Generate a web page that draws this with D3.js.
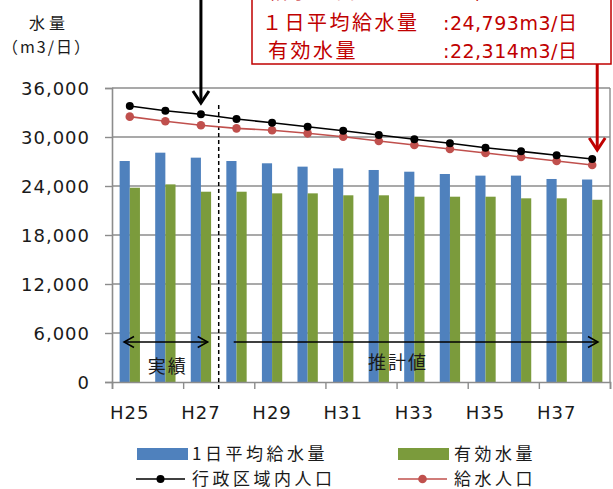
<!DOCTYPE html>
<html>
<head>
<meta charset="utf-8">
<script src="https://cdn.jsdelivr.net/npm/d3@7"></script>
<style>
  html, body { margin: 0; padding: 0; background: #fff; }
  svg { display: block; }
  text { font-family: "DejaVu Sans", "Noto Sans CJK JP", sans-serif; fill: #1a1a1a; }
  .cjk { font-family: "Noto Sans CJK JP", "DejaVu Sans", sans-serif; }
</style>
</head>
<body>
<svg id="chart" width="613" height="489"></svg>
<script>
// Fiscal years (Heisei)
const categories = ["H25","H26","H27","H28","H29","H30","H31","H32","H33","H34","H35","H36","H37","H38"];
// 1日平均給水量 (m3/日)
const dailySupply = [27060, 28080, 27470, 27060, 26780, 26370, 26160, 25960, 25750, 25470, 25270, 25270, 24860, 24793];
// 有効水量 (m3/日)
const effectiveWater = [23790, 24200, 23300, 23300, 23100, 23100, 22860, 22860, 22690, 22690, 22690, 22490, 22490, 22314];
// 行政区域内人口 (人)
const adminPopulation = [33800, 33220, 32780, 32200, 31750, 31260, 30770, 30240, 29720, 29230, 28690, 28240, 27760, 27300];
// 給水人口 (人)
const servedPopulation = [32490, 31920, 31430, 31060, 30820, 30450, 30040, 29510, 29020, 28530, 28040, 27550, 27060, 26572];
const yTicks = [0, 6000, 12000, 18000, 24000, 30000, 36000];
const xLabelYears = ["H25","H27","H29","H31","H33","H35","H37"];
const actualCount = 3; // H25–H27 are actual results, the rest are projections

const svg = d3.select("#chart");
const plotL = 112, plotR = 610, plotT = 88, plotB = 382;
const x = d3.scaleBand().domain(categories).range([plotL, plotR]).paddingInner(0).paddingOuter(0);
const y = d3.scaleLinear().domain([0, 36000]).range([plotB, plotT]);
const xb = d3.scaleLinear().domain([0, categories.length]).range([plotL, plotR]);

const gridColor = "#8c8c8c";
const blue = "#4f81bd", green = "#7b9b3c", red = "#c0504d", dark = "#c00000";

// gridlines + plot border
svg.append("g").selectAll("line").data(yTicks.filter(d => d > 0)).join("line")
  .attr("x1", plotL).attr("x2", plotR)
  .attr("y1", d => y(d)).attr("y2", d => y(d))
  .attr("stroke", gridColor).attr("stroke-width", 1.4);
svg.append("line").attr("x1", plotR).attr("x2", plotR).attr("y1", plotT).attr("y2", plotB)
  .attr("stroke", gridColor).attr("stroke-width", 1.4);

// bars
const bw = x.bandwidth() / 3.5;
const bars = svg.append("g");
bars.selectAll("rect.s").data(categories).join("rect").attr("class", "s")
  .attr("x", (d, i) => x(d) + x.bandwidth() / 2 - bw)
  .attr("y", (d, i) => y(dailySupply[i]))
  .attr("width", bw).attr("height", (d, i) => plotB - y(dailySupply[i]))
  .attr("fill", blue);
bars.selectAll("rect.e").data(categories).join("rect").attr("class", "e")
  .attr("x", (d, i) => x(d) + x.bandwidth() / 2)
  .attr("y", (d, i) => y(effectiveWater[i]))
  .attr("width", bw).attr("height", (d, i) => plotB - y(effectiveWater[i]))
  .attr("fill", green);

// y axis
const yAxis = svg.append("g").attr("transform", `translate(${plotL},0)`)
  .call(d3.axisLeft(y).tickValues(yTicks).tickSize(7).tickPadding(15).tickFormat(d3.format(",")));
yAxis.select(".domain").attr("stroke", gridColor).attr("stroke-width", 1.6);
yAxis.selectAll(".tick line").attr("stroke", gridColor).attr("stroke-width", 1.4);
yAxis.selectAll(".tick text").attr("font-size", 18).attr("fill", "#1a1a1a")
  .style("letter-spacing", "1px").attr("dy", "0.36em");

// x axis: ticks on every second category boundary
const xAxis = svg.append("g").attr("transform", `translate(0,${plotB})`)
  .call(d3.axisBottom(xb).tickValues(d3.range(0, categories.length + 1, 2)).tickSize(7).tickFormat(""));
xAxis.select(".domain").attr("stroke", gridColor).attr("stroke-width", 1.6);
xAxis.selectAll(".tick line").attr("stroke", gridColor).attr("stroke-width", 1.4);
svg.append("g").selectAll("text").data(xLabelYears).join("text")
  .attr("x", d => x(d) + x.bandwidth() / 2).attr("y", 413).attr("dy", "0.36em")
  .attr("text-anchor", "middle").attr("font-size", 18).style("letter-spacing", "1px")
  .text(d => d);

// divider between actual and projected
const divX = xb(actualCount);
svg.append("line").attr("x1", divX).attr("x2", divX).attr("y1", 105).attr("y2", 390)
  .attr("stroke", "#000").attr("stroke-width", 1.5).attr("stroke-dasharray", "4,3");

// population lines
function series(vals, color, r) {
  const g = svg.append("g");
  g.append("path").datum(vals)
    .attr("d", d3.line().x((d, i) => x(categories[i]) + x.bandwidth() / 2).y(d => y(d)))
    .attr("fill", "none").attr("stroke", color).attr("stroke-width", 1.6);
  g.selectAll("circle").data(vals).join("circle")
    .attr("cx", (d, i) => x(categories[i]) + x.bandwidth() / 2).attr("cy", d => y(d))
    .attr("r", r).attr("fill", color);
}
series(servedPopulation, red, 4.3);
series(adminPopulation, "#000", 4);

// arrows
function openHead(g, tx, ty, dir, len, half, color, w) {
  const a1 = dir + Math.PI - Math.atan2(half, len), a2 = dir + Math.PI + Math.atan2(half, len);
  const L = Math.hypot(len, half);
  g.append("path")
    .attr("d", `M${tx + L * Math.cos(a1)},${ty + L * Math.sin(a1)}L${tx},${ty}L${tx + L * Math.cos(a2)},${ty + L * Math.sin(a2)}`)
    .attr("fill", "none").attr("stroke", color).attr("stroke-width", w).attr("stroke-linejoin", "miter");
}
const arrows = svg.append("g");
const arrowY = 342;
const actX0 = x("H25") + 12, actX1 = divX - 11;
arrows.append("line").attr("x1", actX0).attr("x2", actX1).attr("y1", arrowY).attr("y2", arrowY)
  .attr("stroke", "#000").attr("stroke-width", 1.5);
openHead(arrows, actX0, arrowY, Math.PI, 10, 5.5, "#000", 1.5);
openHead(arrows, actX1, arrowY, 0, 10, 5.5, "#000", 1.5);
const estX0 = divX + 15, estX1 = plotR - 12;
arrows.append("line").attr("x1", estX0).attr("x2", estX1).attr("y1", arrowY).attr("y2", arrowY)
  .attr("stroke", "#000").attr("stroke-width", 1.5);
openHead(arrows, estX1, arrowY, 0, 10, 5.5, "#000", 1.5);

svg.append("text").attr("class", "cjk").attr("x", (actX0 + actX1) / 2 + 2).attr("y", 367).attr("dy", "0.35em")
  .attr("text-anchor", "middle").attr("font-size", 18).style("letter-spacing", "2px").text("実績");
svg.append("text").attr("class", "cjk").attr("x", 398).attr("y", 363).attr("dy", "0.35em")
  .attr("text-anchor", "middle").attr("font-size", 18).style("letter-spacing", "2px").text("推計値");

// callout arrow to H27
const h27x = x("H27") + x.bandwidth() / 2;
arrows.append("line").attr("x1", h27x).attr("x2", h27x).attr("y1", 0).attr("y2", 103)
  .attr("stroke", "#000").attr("stroke-width", 3);
openHead(arrows, h27x, 103, Math.PI / 2, 12, 8, "#000", 3);

// annotation box for the final year
const box = svg.append("g");
box.append("rect").attr("x", 252).attr("y", -40).attr("width", 359).attr("height", 104)
  .attr("fill", "#fff").attr("stroke", dark).attr("stroke-width", 1.5);
const boxRows = [
  ["給水人口", ":26,572人", -8, 268],
  ["１日平均給水量", ":24,793m3/日", 23, 262],
  ["有効水量", ":22,314m3/日", 51, 268]
];
boxRows.forEach(([label, val, yy, lx]) => {
  box.append("text").attr("class", "cjk").attr("x", lx).attr("y", yy).attr("dy", "0.36em")
    .attr("font-size", 20).style("letter-spacing", "2.5px").style("fill", dark).text(label);
  box.append("text").attr("x", 443).attr("y", yy).attr("dy", "0.36em")
    .attr("font-size", 19).style("letter-spacing", "0.5px").style("fill", dark).text(val);
});
const lastX = x("H38") + x.bandwidth() / 2 + 5;
arrows.append("line").attr("x1", lastX).attr("x2", lastX).attr("y1", 64).attr("y2", 150)
  .attr("stroke", dark).attr("stroke-width", 3);
openHead(arrows, lastX, 150, Math.PI / 2, 12, 8, dark, 3);

// y axis title
svg.append("text").attr("class", "cjk").attr("x", 49).attr("y", 23).attr("dy", "0.36em")
  .attr("text-anchor", "middle").attr("font-size", 16).style("letter-spacing", "4px").text("水量");
svg.append("text").attr("class", "cjk").attr("x", 47).attr("y", 47).attr("dy", "0.36em")
  .attr("text-anchor", "middle").attr("font-size", 16).style("letter-spacing", "2px").text("（m3/日）");

// legend
const legend = svg.append("g");
const legendItems = [
  { name: "1日平均給水量", type: "bar", color: blue, x: 137, y: 454 },
  { name: "有効水量", type: "bar", color: green, x: 398, y: 454 },
  { name: "行政区域内人口", type: "line", color: "#000", x: 136, y: 479 },
  { name: "給水人口", type: "line", color: red, x: 398, y: 479 }
];
legendItems.forEach(it => {
  if (it.type === "bar") {
    legend.append("rect").attr("x", it.x).attr("y", it.y - 6).attr("width", 51).attr("height", 12).attr("fill", it.color);
  } else {
    legend.append("line").attr("x1", it.x).attr("x2", it.x + 49).attr("y1", it.y).attr("y2", it.y)
      .attr("stroke", it.color).attr("stroke-width", 1.6);
    legend.append("circle").attr("cx", it.x + 24.5).attr("cy", it.y).attr("r", it.color === red ? 4.3 : 4).attr("fill", it.color);
  }
  legend.append("text").attr("class", "cjk").attr("x", 192 + (it.x > 300 ? 262 : 0)).attr("y", it.y).attr("dy", "0.36em")
    .attr("font-size", 17).style("letter-spacing", "3.5px").text(it.name);
});
</script>
</body>
</html>
